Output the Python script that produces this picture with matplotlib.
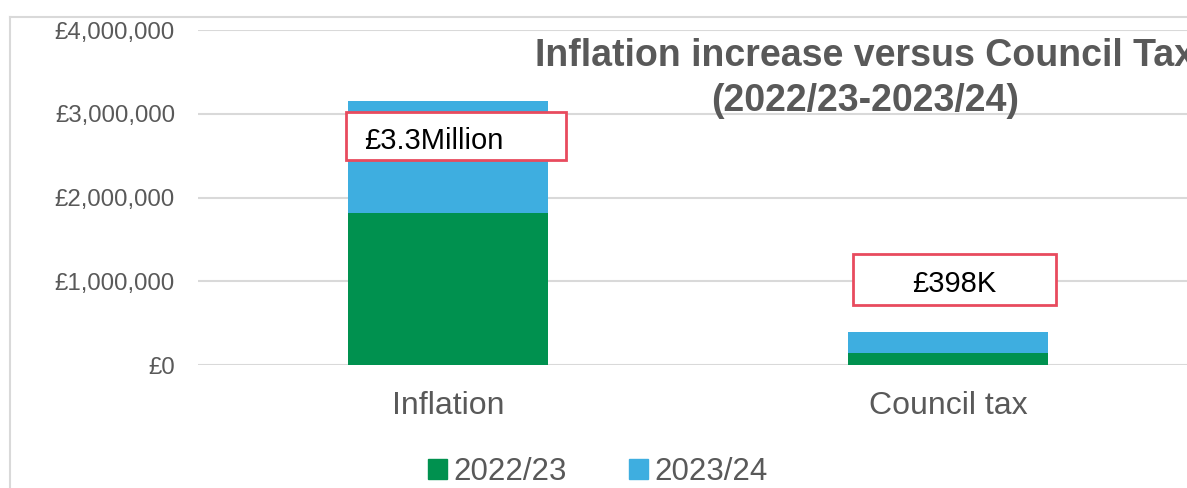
import matplotlib
matplotlib.use("Agg")
import matplotlib.pyplot as plt
from matplotlib.patches import Rectangle
from matplotlib.lines import Line2D
from matplotlib.ticker import FuncFormatter

categories = ["Inflation", "Council tax"]
series_names = ["2022/23", "2023/24"]
values_2022_23 = [1817000, 145000]
values_2023_24 = [1335000, 253000]
callouts = ["£3.3Million", "£398K"]
y_ticks = [0, 1000000, 2000000, 3000000, 4000000]

GREEN = "#00914F"
BLUE = "#3EAEE0"
RED = "#E84B5E"
GREY_TXT = "#595959"
GRID = "#D9D9D9"

plt.rcParams["font.family"] = ["Liberation Sans", "DejaVu Sans"]

fig = plt.figure(figsize=(11.87, 4.88), dpi=100)
ax = fig.add_axes([198 / 1187, 1 - 365 / 488, 1000.5 / 1187, (365 - 30.3) / 488])

x = list(range(len(categories)))
ax.bar(x, values_2022_23, width=0.4, color=GREEN, label=series_names[0], zorder=2)
ax.bar(x, values_2023_24, width=0.4, bottom=values_2022_23, color=BLUE,
       label=series_names[1], zorder=2)

ax.set_xlim(-0.5, 1.5)
ax.set_ylim(0, 4000000)
ax.set_yticks(y_ticks)
ax.yaxis.set_major_formatter(FuncFormatter(lambda v, p: f"£{int(v):,}"))
ax.grid(axis="y", color=GRID, linewidth=1.5, zorder=0)
for s in ax.spines.values():
    s.set_visible(False)
ax.tick_params(axis="y", length=0, pad=16.5, labelsize=17.3, labelcolor=GREY_TXT)
ax.set_xticks(x)
ax.set_xticklabels(categories)
ax.tick_params(axis="x", length=0, pad=18.5, labelsize=23, labelcolor=GREY_TXT)

# Callout boxes above the bars
box_specs = [(346, 112, 566, 160), (853, 254, 1056, 305)]
for (x0, y0, x1, y1), txt in zip(box_specs, callouts):
    fig.patches.append(Rectangle((x0 / 1187, 1 - y1 / 488), (x1 - x0) / 1187,
                                 (y1 - y0) / 488, transform=fig.transFigure,
                                 facecolor="white", edgecolor=RED, linewidth=2,
                                 zorder=5))
fig.text(364 / 1187, 1 - 141 / 488, callouts[0], fontsize=21, color="black",
         ha="left", va="center", zorder=6)
fig.text((853 + 1056) / 2 / 1187, 1 - 284 / 488, callouts[1], fontsize=21,
         color="black", ha="center", va="center", zorder=6)

# Title
fig.text(865 / 1187, 1 - 56 / 488, "Inflation increase versus Council Tax",
         fontsize=27, fontweight="bold", color=GREY_TXT, ha="center", va="center")
fig.text(865 / 1187, 1 - 101 / 488, "(2022/23-2023/24)",
         fontsize=27, fontweight="bold", color=GREY_TXT, ha="center", va="center")

# Legend
handles = [Rectangle((0, 0), 1, 1, color=GREEN), Rectangle((0, 0), 1, 1, color=BLUE)]
fig.legend(handles, series_names, loc="center", bbox_to_anchor=(598 / 1187, 1 - 472 / 488),
           ncol=2, frameon=False, fontsize=22.5, labelcolor=GREY_TXT,
           handlelength=0.6, handleheight=0.6, handletextpad=0.2, columnspacing=2.0)

# Chart area frame
fig.add_artist(Line2D([10 / 1187, 10 / 1187], [0, 1 - 17 / 488], transform=fig.transFigure,
                      color=GRID, linewidth=1.5))
fig.add_artist(Line2D([10 / 1187, 1], [1 - 17 / 488, 1 - 17 / 488], transform=fig.transFigure,
                      color=GRID, linewidth=1.5))

fig.savefig("out.png", dpi=100, facecolor="white")
